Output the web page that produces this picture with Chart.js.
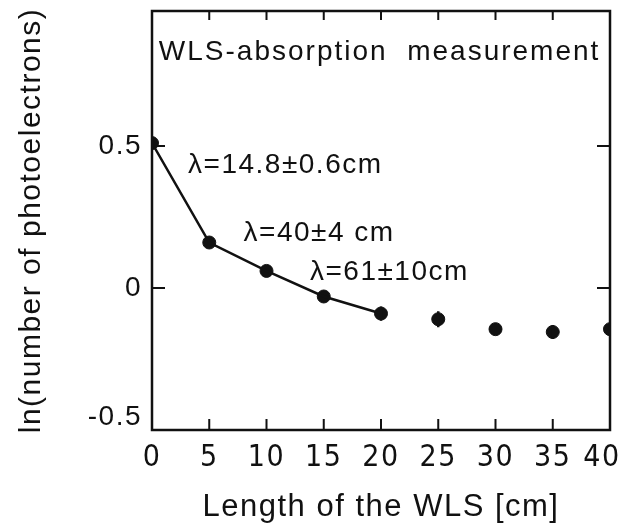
<!DOCTYPE html>
<html>
<head>
<meta charset="utf-8">
<script src="https://cdn.jsdelivr.net/npm/chart.js@4.4.1/dist/chart.umd.min.js"></script>
<style>
  html, body { margin: 0; padding: 0; background: #fff; }
  #wrap { width: 621px; height: 526px; }
</style>
</head>
<body>
<div id="wrap"><canvas id="c" width="621" height="526"></canvas></div>
<script>
// data
const lengths = [0, 5, 10, 15, 20, 25, 30, 35, 40];
const lnPe = [0.51, 0.16, 0.06, -0.03, -0.09, -0.11, -0.145, -0.155, -0.145];
const lnPeErr = [0, 0, 0, 0, 0.025, 0.028, 0, 0.025, 0];
const fitPoints = 5; // first points joined by the fit line
const yTicks = [-0.5, 0, 0.5];
const xTicks = [0, 5, 10, 15, 20, 25, 30, 35, 40];

const notes = [
  { text: 'WLS-absorption  measurement', x: 0.6, y: 0.83 },
  { text: 'λ=14.8±0.6cm', x: 3.15, y: 0.433 },
  { text: 'λ=40±4 cm', x: 8.0, y: 0.194 },
  { text: 'λ=61±10cm', x: 13.8, y: 0.056 },
];

const FONT = '"Liberation Sans", Arial, sans-serif';
const NARROW = '"Liberation Sans Narrow", "DejaVu Sans Condensed", "Liberation Sans", sans-serif';
const INK = '#111';

const framePlugin = {
  id: 'frame',
  beforeDraw(chart) {
    chart.ctx.letterSpacing = '1.5px';
    // the edge labels sit a little inside in the original
    const xs = chart.scales.x.getLabelItems(chart.chartArea);
    const last = xs[xs.length - 1];
    if (last) last.options.translation[0] -= 8;
    const ys = chart.scales.y.getLabelItems(chart.chartArea);
    if (ys[0]) ys[0].options.translation[1] -= 13;
  },
  afterDatasetsDraw(chart) {
    const { ctx, chartArea: a, scales: { x, y } } = chart;
    ctx.save();
    ctx.strokeStyle = INK;
    ctx.lineWidth = 2.5;
    ctx.strokeRect(a.left, a.top, a.right - a.left, a.bottom - a.top);

    // inward ticks on all four sides
    ctx.lineWidth = 2;
    ctx.beginPath();
    xTicks.forEach(v => {
      const px = x.getPixelForValue(v);
      ctx.moveTo(px, a.bottom); ctx.lineTo(px, a.bottom - 11);
      ctx.moveTo(px, a.top); ctx.lineTo(px, a.top + 9);
    });
    yTicks.forEach(v => {
      const py = y.getPixelForValue(v);
      ctx.moveTo(a.left, py); ctx.lineTo(a.left + 13, py);
      ctx.moveTo(a.right, py); ctx.lineTo(a.right - 13, py);
    });
    ctx.stroke();

    // error bars
    ctx.lineWidth = 2.5;
    ctx.beginPath();
    lengths.forEach((l, i) => {
      if (!lnPeErr[i]) return;
      const px = x.getPixelForValue(l);
      ctx.moveTo(px, y.getPixelForValue(lnPe[i] - lnPeErr[i]));
      ctx.lineTo(px, y.getPixelForValue(lnPe[i] + lnPeErr[i]));
    });
    ctx.stroke();

    // text notes
    ctx.fillStyle = INK;
    ctx.font = '28px ' + FONT;
    ctx.textBaseline = 'middle';
    ctx.textAlign = 'left';
    notes.forEach((n, i) => {
      ctx.letterSpacing = i === 0 ? '2px' : '1.5px';
      ctx.fillText(n.text, x.getPixelForValue(n.x), y.getPixelForValue(n.y));
    });
    ctx.restore();
  }
};

function noEdgePadding(s) {
  s.paddingLeft = 0;
  s.paddingRight = 0;
  s.paddingTop = 0;
  s.paddingBottom = 0;
}

new Chart(document.getElementById('c'), {
  type: 'scatter',
  data: {
    datasets: [
      {
        label: 'fit',
        data: lengths.slice(0, fitPoints).map((l, i) => ({ x: l, y: lnPe[i] })),
        showLine: true,
        borderColor: INK,
        borderWidth: 2.5,
        pointRadius: 0,
      },
      {
        label: 'measurement',
        data: lengths.map((l, i) => ({ x: l, y: lnPe[i] })),
        showLine: false,
        backgroundColor: INK,
        borderColor: INK,
        pointRadius: 6.5,
      },
    ],
  },
  options: {
    responsive: false,
    animation: false,
    layout: { padding: { left: 0, right: 11, top: 11, bottom: 0 } },
    plugins: { legend: { display: false }, tooltip: { enabled: false } },
    scales: {
      x: {
        type: 'linear',
        min: 0, max: 40,
        afterBuildTicks: s => { s.ticks = xTicks.map(v => ({ value: v })); },
        afterFit: s => { s.height = 96; noEdgePadding(s); },
        grid: { display: false, drawTicks: false },
        border: { display: false },
        ticks: { color: INK, padding: 10, maxRotation: 0, font: { family: NARROW, size: 30 } },
        title: {
          display: true,
          text: 'Length of the WLS [cm]',
          color: INK,
          padding: { top: 0, bottom: 0 },
          font: { family: FONT, size: 31 },
        },
      },
      y: {
        type: 'linear',
        min: -0.5, max: 0.975,
        afterBuildTicks: s => { s.ticks = yTicks.map(v => ({ value: v })); },
        afterFit: s => { s.width = 152; noEdgePadding(s); },
        grid: { display: false, drawTicks: false },
        border: { display: false },
        ticks: {
          color: INK, padding: 10, font: { family: FONT, size: 28 },
          callback: v => String(v),
        },
        title: {
          display: true,
          text: 'ln(number of photoelectrons)',
          color: INK,
          padding: { top: 14, bottom: 0 },
          font: { family: FONT, size: 30 },
        },
      },
    },
  },
  plugins: [framePlugin],
});
</script>
</body>
</html>
